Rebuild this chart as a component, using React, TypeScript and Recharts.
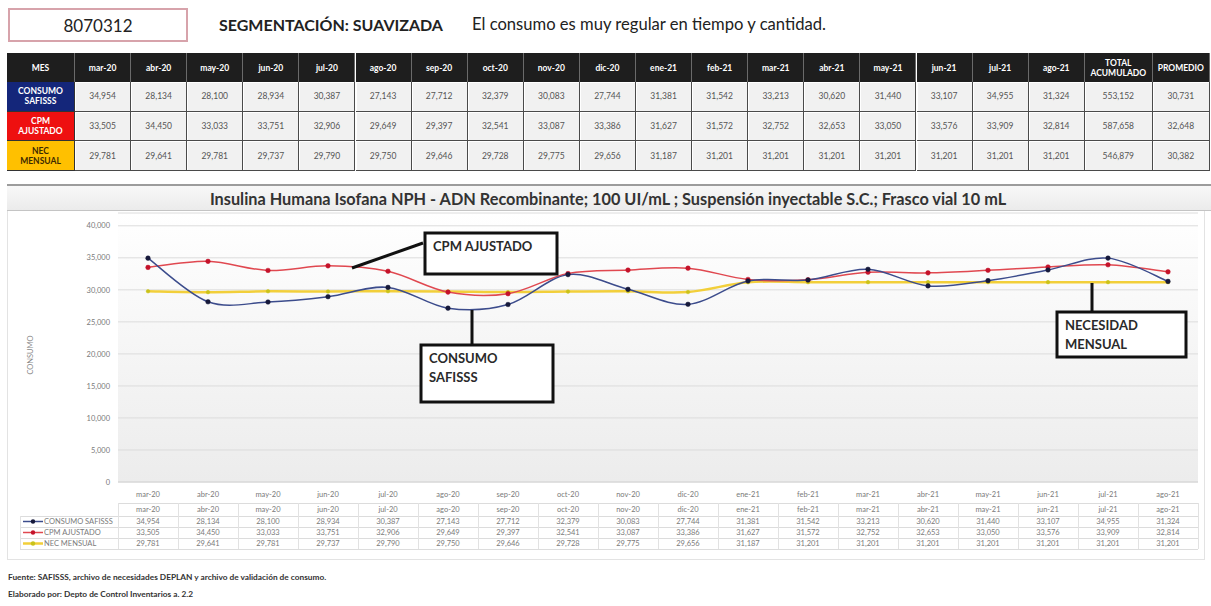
import React from 'react';
import { LineChart, Line, XAxis, YAxis, CartesianGrid } from 'recharts';

const months = ['mar-20', 'abr-20', 'may-20', 'jun-20', 'jul-20', 'ago-20', 'sep-20', 'oct-20', 'nov-20', 'dic-20', 'ene-21', 'feb-21', 'mar-21', 'abr-21', 'may-21', 'jun-21', 'jul-21', 'ago-21'];
const consumoSafisss = [34954, 28134, 28100, 28934, 30387, 27143, 27712, 32379, 30083, 27744, 31381, 31542, 33213, 30620, 31440, 33107, 34955, 31324];
const cpmAjustado = [33505, 34450, 33033, 33751, 32906, 29649, 29397, 32541, 33087, 33386, 31627, 31572, 32752, 32653, 33050, 33576, 33909, 32814];
const necMensual = [29781, 29641, 29781, 29737, 29790, 29750, 29646, 29728, 29775, 29656, 31187, 31201, 31201, 31201, 31201, 31201, 31201, 31201];
const yTicks = [0, 5000, 10000, 15000, 20000, 25000, 30000, 35000, 40000];

const seriesNames = ['CONSUMO SAFISSS', 'CPM AJUSTADO', 'NEC MENSUAL'];
const headerFirst = 'MES';
const headerTotal = ['TOTAL', 'ACUMULADO'];
const headerProm = 'PROMEDIO';
const codigo = '8070312';
const segmentacion = 'SEGMENTACIÓN: SUAVIZADA';
const comentario = 'El consumo es muy regular en tiempo y cantidad.';
const titulo = 'Insulina Humana Isofana NPH - ADN Recombinante; 100 UI/mL ; Suspensión inyectable S.C.; Frasco vial 10 mL';
const yTitle = 'CONSUMO';
const fuente = [
  'Fuente: SAFISSS, archivo de necesidades DEPLAN y archivo de validación de consumo.',
  'Elaborado por: Depto de Control Inventarios a. 2.2',
];
const callouts = [
  { lines: ['CPM AJUSTADO'] },
  { lines: ['CONSUMO', 'SAFISSS'] },
  { lines: ['NECESIDAD', 'MENSUAL'] },
];

const seriesValues = [consumoSafisss, cpmAjustado, necMensual];
const seriesColors = ['#3c4c8c', '#e04850', '#f2cf3a'];
const dotColors = ['#16193a', '#c4122a', '#c9c21a'];
const rowBg = ['#14267a', '#ee1010', '#ffc000'];
const rowFg = ['#ffffff', '#ffffff', '#3d2a00'];

const fmt = (n: number) => Math.round(n).toLocaleString('en-US');
const sum = (a: number[]) => a.reduce((s, v) => s + v, 0);

const data = months.map((m, i) => ({
  mes: m,
  consumo: consumoSafisss[i],
  cpm: cpmAjustado[i],
  nec: necMensual[i],
}));

// Excel-like smooth curve (Catmull-Rom style bezier)
function excelSmooth(context: any) {
  let pts: number[][] = [];
  return {
    areaStart() {},
    areaEnd() {},
    lineStart() {
      pts = [];
    },
    point(x: number, y: number) {
      pts.push([+x, +y]);
    },
    lineEnd() {
      const n = pts.length;
      if (!n) return;
      context.moveTo(pts[0][0], pts[0][1]);
      for (let i = 0; i < n - 1; i++) {
        const p0 = pts[i - 1] || pts[i];
        const p1 = pts[i];
        const p2 = pts[i + 1];
        const p3 = pts[i + 2] || p2;
        const t = 1 / 6;
        context.bezierCurveTo(
          p1[0] + (p2[0] - p0[0]) * t,
          p1[1] + (p2[1] - p0[1]) * t,
          p2[0] - (p3[0] - p1[0]) * t,
          p2[1] - (p3[1] - p1[1]) * t,
          p2[0],
          p2[1]
        );
      }
    },
  };
}

const FONT = 'Lato, "Open Sans", sans-serif';

// header table geometry
const tLeft = 7;
const firstW = 68;
const monthW = 56.1;
const totalW = 68;
const promW = 57;
const rowsY = [53, 82, 111.5, 141, 171];

function HeaderTable() {
  const cells: React.ReactNode[] = [];
  const monthStart = tLeft + firstW;
  const totalX = monthStart + months.length * monthW;
  const promX = totalX + totalW;
  const hdrStyle: React.CSSProperties = {
    position: 'absolute',
    background: '#1e1e1e',
    color: '#ffffff',
    fontWeight: 700,
    fontSize: 8.5,
    display: 'flex',
    alignItems: 'center',
    justifyContent: 'center',
    textAlign: 'center',
    borderRight: '1px solid #6a6a6a',
    boxSizing: 'border-box',
    lineHeight: '10px',
  };
  const top = rowsY[0];
  const h0 = rowsY[1] - rowsY[0];
  cells.push(
    <div key="h-mes" style={{ ...hdrStyle, left: tLeft, top, width: firstW, height: h0 }}>{headerFirst}</div>
  );
  months.forEach((m, i) => {
    cells.push(
      <div key={'h' + i} style={{ ...hdrStyle, left: monthStart + i * monthW, top, width: monthW, height: h0 }}>{m}</div>
    );
  });
  cells.push(
    <div key="h-tot" style={{ ...hdrStyle, left: totalX, top, width: totalW, height: h0 }}>
      {headerTotal[0]}
      <br />
      {headerTotal[1]}
    </div>
  );
  cells.push(
    <div key="h-prom" style={{ ...hdrStyle, left: promX, top, width: promW, height: h0 }}>{headerProm}</div>
  );
  seriesValues.forEach((vals, r) => {
    const y = rowsY[r + 1];
    const h = rowsY[r + 2] - y;
    const words = seriesNames[r].split(' ');
    cells.push(
      <div
        key={'l' + r}
        style={{
          ...hdrStyle,
          background: rowBg[r],
          color: rowFg[r],
          left: tLeft,
          top: y,
          width: firstW,
          height: h,
          borderRight: '1px solid #333',
          borderBottom: '1px solid #333',
        }}
      >
        {words[0]}
        <br />
        {words[1]}
      </div>
    );
    const cellStyle: React.CSSProperties = {
      position: 'absolute',
      top: y,
      height: h,
      background: '#f1f1f1',
      color: '#555',
      fontSize: 8.5,
      display: 'flex',
      alignItems: 'center',
      justifyContent: 'center',
      border: '1px solid #4a4a4a',
      borderTop: 'none',
      borderLeft: 'none',
      boxShadow: 'inset 1px 1px 0 #ffffff',
      boxSizing: 'border-box',
    };
    vals.forEach((v, i) => {
      cells.push(
        <div key={'c' + r + '-' + i} style={{ ...cellStyle, left: monthStart + i * monthW, width: monthW }}>{fmt(v)}</div>
      );
    });
    cells.push(
      <div key={'t' + r} style={{ ...cellStyle, left: totalX, width: totalW }}>{fmt(sum(vals))}</div>
    );
    cells.push(
      <div key={'p' + r} style={{ ...cellStyle, left: promX, width: promW }}>{fmt(sum(vals) / vals.length)}</div>
    );
  });
  return <>{cells}</>;
}

// chart geometry
const plotLeft = 118;
const plotRight = 1198;
const plotTop = 213;
const plotBottom = 482;
const colW = (plotRight - plotLeft) / months.length;

function ChartDataTable() {
  const rowTops = [503, 516, 527, 538, 549];
  const els: React.ReactNode[] = [];
  const txt: React.CSSProperties = {
    position: 'absolute',
    fontSize: 7.5,
    color: '#7a7a7a',
    display: 'flex',
    alignItems: 'center',
    justifyContent: 'center',
    whiteSpace: 'nowrap',
  };
  rowTops.forEach((y, i) => {
    els.push(
      <div key={'hl' + i} style={{ position: 'absolute', left: i === 0 ? plotLeft : 20, top: y, width: plotRight - (i === 0 ? plotLeft : 20), height: 1, background: '#dcdcdc' }} />
    );
  });
  for (let k = 0; k <= months.length; k++) {
    els.push(
      <div key={'vl' + k} style={{ position: 'absolute', left: plotLeft + k * colW, top: rowTops[0], width: 1, height: rowTops[4] - rowTops[0], background: '#e2e2e2' }} />
    );
  }
  els.push(
    <div key="vl-l" style={{ position: 'absolute', left: 20, top: rowTops[1], width: 1, height: rowTops[4] - rowTops[1], background: '#e2e2e2' }} />
  );
  months.forEach((m, i) => {
    els.push(
      <div key={'tm' + i} style={{ ...txt, left: plotLeft + i * colW, top: rowTops[0], width: colW, height: rowTops[1] - rowTops[0] }}>{m}</div>
    );
  });
  seriesValues.forEach((vals, r) => {
    const y = rowTops[r + 1];
    const h = rowTops[r + 2] - y;
    vals.forEach((v, i) => {
      els.push(
        <div key={'tv' + r + '-' + i} style={{ ...txt, left: plotLeft + i * colW, top: y, width: colW, height: h }}>{fmt(v)}</div>
      );
    });
    els.push(
      <div key={'lg' + r} style={{ position: 'absolute', left: 22, top: y, width: 96, height: h }}>
        <svg width={22} height={h} style={{ position: 'absolute', left: 0, top: 0 }}>
          <line x1={1} x2={21} y1={h / 2} y2={h / 2} stroke={seriesColors[r]} strokeWidth={r === 2 ? 2.5 : 1.5} />
          <circle cx={11} cy={h / 2} r={2.2} fill={dotColors[r]} />
        </svg>
        <div style={{ ...txt, left: 22, top: 0, height: h, justifyContent: 'flex-start' }}>{seriesNames[r]}</div>
      </div>
    );
  });
  return <>{els}</>;
}

function Overlay() {
  const stroke = '#111';
  const boxes = [
    { x: 425, y: 233, w: 132, h: 41, line: [423, 243, 352, 268] },
    { x: 421, y: 345, w: 132, h: 57, line: [472, 310, 472, 345] },
    { x: 1057, y: 312, w: 129, h: 45, line: [1092, 283, 1092, 312] },
  ];
  return (
    <svg width={1211} height={606} style={{ position: 'absolute', left: 0, top: 0, pointerEvents: 'none' }}>
      {boxes.map((b, i) => (
        <g key={i}>
          <line x1={b.line[0]} y1={b.line[1]} x2={b.line[2]} y2={b.line[3]} stroke={stroke} strokeWidth={3} />
          <rect x={b.x} y={b.y} width={b.w} height={b.h} fill="#ffffff" stroke={stroke} strokeWidth={3} />
          {callouts[i].lines.map((t, j) => (
            <text key={j} x={b.x + 8} y={b.y + 18 + j * 19} fontFamily={FONT} fontWeight={700} fontSize={13} fill="#2a2a2a">
              {t}
            </text>
          ))}
        </g>
      ))}
    </svg>
  );
}

export default function App() {
  return (
    <div style={{ position: 'absolute', left: 0, top: 0, width: 1211, height: 606, background: '#ffffff', fontFamily: FONT, overflow: 'hidden' }}>
      <div
        style={{
          position: 'absolute',
          left: 8,
          top: 8,
          width: 180,
          height: 34,
          border: '2px solid #d7a3ab',
          boxSizing: 'border-box',
          display: 'flex',
          alignItems: 'center',
          justifyContent: 'center',
          fontSize: 17,
          color: '#222',
        }}
      >
        {codigo}
      </div>
      <div style={{ position: 'absolute', left: 219, top: 15, fontSize: 16, fontWeight: 700, color: '#222', whiteSpace: 'nowrap' }}>{segmentacion}</div>
      <div style={{ position: 'absolute', left: 472, top: 14, fontSize: 16.6, color: '#222', whiteSpace: 'nowrap' }}>{comentario}</div>

      <HeaderTable />

      <div style={{ position: 'absolute', left: 7, top: 184, width: 1198, height: 376, border: '1px solid #e3e3e3', boxSizing: 'border-box' }} />
      <div
        style={{
          position: 'absolute',
          left: 7,
          top: 184,
          width: 1204,
          height: 27,
          background: 'linear-gradient(#f8f8f8, #ebebeb)',
          borderTop: '2px solid #9c9c9c',
          borderBottom: '1px solid #c4c4c4',
          boxSizing: 'border-box',
          paddingRight: 2,
          display: 'flex',
          alignItems: 'center',
          justifyContent: 'center',
          fontSize: 16.3,
          fontWeight: 700,
          color: '#333',
          whiteSpace: 'nowrap',
        }}
      >
        {titulo}
      </div>
      <div
        style={{
          position: 'absolute',
          left: plotLeft,
          top: plotTop,
          width: plotRight - plotLeft,
          height: plotBottom - plotTop,
          background: 'linear-gradient(#ffffff, #ececec)',
        }}
      />
      <div
        style={{
          position: 'absolute',
          left: 30,
          top: 355,
          transform: 'translate(-50%, -50%) rotate(-90deg)',
          fontSize: 7.5,
          color: '#8a8a8a',
          whiteSpace: 'nowrap',
        }}
      >
        {yTitle}
      </div>
      <div style={{ position: 'absolute', left: 0, top: 0 }}>
        <LineChart width={1211} height={502} data={data} margin={{ top: plotTop, right: 1211 - plotRight, bottom: 0, left: 0 }}>
          <CartesianGrid vertical={false} stroke="#dcdcdc" />
          <XAxis
            dataKey="mes"
            height={20}
            interval={0}
            padding={{ left: colW / 2, right: colW / 2 }}
            tickLine={false}
            axisLine={{ stroke: '#d6d6d6' }}
            tickMargin={4}
            tick={{ fontSize: 7.5, fill: '#7a7a7a', fontFamily: FONT }}
          />
          <YAxis
            width={plotLeft}
            type="number"
            domain={[0, 42000]}
            ticks={yTicks}
            interval={0}
            tickFormatter={fmt}
            axisLine={false}
            tickLine={false}
            tick={{ fontSize: 7.5, fill: '#7a7a7a', fontFamily: FONT }}
          />
          <Line
            dataKey="nec"
            type={excelSmooth as any}
            stroke={seriesColors[2]}
            strokeWidth={2.5}
            dot={{ r: 1.8, fill: dotColors[2], stroke: dotColors[2], strokeWidth: 0.5 }}
            isAnimationActive={false}
          />
          <Line
            dataKey="cpm"
            type={excelSmooth as any}
            stroke={seriesColors[1]}
            strokeWidth={1.5}
            dot={{ r: 2.3, fill: dotColors[1], stroke: dotColors[1], strokeWidth: 0.5 }}
            isAnimationActive={false}
          />
          <Line
            dataKey="consumo"
            type={excelSmooth as any}
            stroke={seriesColors[0]}
            strokeWidth={1.5}
            dot={{ r: 2.3, fill: dotColors[0], stroke: dotColors[0], strokeWidth: 0.5 }}
            isAnimationActive={false}
          />
        </LineChart>
      </div>

      <ChartDataTable />
      <Overlay />

      {fuente.map((t, i) => (
        <div key={i} style={{ position: 'absolute', left: 8, top: 572 + i * 17, fontSize: 8.3, fontWeight: 700, color: '#333', whiteSpace: 'nowrap' }}>
          {t}
        </div>
      ))}
    </div>
  );
}
